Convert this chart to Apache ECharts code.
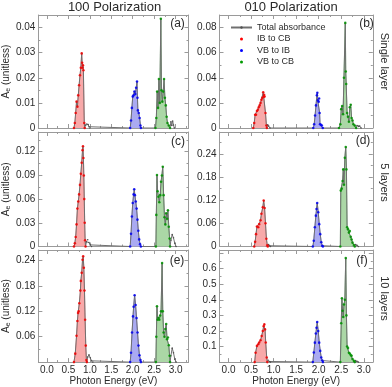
<!DOCTYPE html>
<html><head><meta charset="utf-8">
<script src="https://cdn.jsdelivr.net/npm/echarts@6/dist/echarts.min.js"></script>
<style>html,body{margin:0;padding:0;background:#fff}#c{width:392px;height:387px}</style>
</head><body><div id="c"></div>
<script>
// ---------- DATA (Photon energy in eV, absorbance unitless) ----------
// Panel (a) 100 polarization, single layer
const aRedE=[0.63,0.65,0.67,0.69,0.71,0.73,0.75,0.77,0.79,0.81,0.82,0.83,0.84,0.85,0.87,0.88];
const aRedY=[0,0.002,0.006,0.0105,0.0085,0.013,0.017,0.021,0.024,0.0297,0.026,0.024,0.025,0.023,0.002,0];
const aTail1E=[0.90,0.93,0.96,0.98,1.00];
const aTail1Y=[0.0012,0.0016,0.0014,0.0005,0];
const aBlueE=[1.94,1.96,1.98,2.00,2.02,2.04,2.06,2.08,2.10,2.11,2.12,2.14,2.16,2.18,2.19];
const aBlueY=[0,0.003,0.008,0.0125,0.013,0.0145,0.0135,0.016,0.0185,0.012,0.007,0.006,0.004,0.001,0];
const aGreenE=[2.53,2.55,2.57,2.59,2.61,2.63,2.655,2.67,2.69,2.71,2.73,2.75,2.77,2.79,2.81,2.84,2.87];
const aGreenY=[0,0.004,0.0145,0.008,0.0195,0.010,0.0435,0.015,0.0105,0.0145,0.0195,0.012,0.009,0.0045,0.002,0.001,0];
const aTail2E=[2.89,2.91,2.93,2.95,2.97];
const aTail2Y=[0.0025,0.001,0.0028,0.0012,0];
// Panel (b) 010 polarization, single layer
const bRedE=[0.55,0.57,0.59,0.61,0.63,0.65,0.67,0.69,0.71,0.73,0.75,0.77,0.78,0.79,0.80,0.82,0.84,0.85];
const bRedY=[0,0.004,0.0105,0.0105,0.0135,0.0145,0.0165,0.018,0.02,0.0225,0.024,0.0285,0.025,0.0265,0.025,0.012,0.002,0];
const bTail1E=[0.87,0.89,0.92];
const bTail1Y=[0.0025,0.0015,0];
const bBlueE=[1.88,1.90,1.92,1.94,1.96,1.97,1.98,2.00,2.01,2.02,2.03,2.05,2.07,2.09];
const bBlueY=[0,0.003,0.01,0.018,0.026,0.028,0.022,0.021,0.0235,0.012,0.003,0.0025,0.002,0];
const bGreenE=[2.45,2.48,2.50,2.52,2.54,2.56,2.59,2.60,2.61,2.63,2.65,2.67,2.69,2.71,2.73,2.75,2.77,2.80,2.83];
const bGreenY=[0,0.003,0.015,0.0175,0.011,0.04,0.0837,0.045,0.035,0.012,0.009,0.005,0.0165,0.0185,0.008,0.006,0.003,0.002,0];
const bTail2E=[2.85,2.88,2.91,2.94];
const bTail2Y=[0.002,0.0012,0.0015,0];
// Panel (c) 100 polarization, 5 layers
const cRedE=[0.63,0.65,0.67,0.69,0.71,0.73,0.75,0.77,0.79,0.81,0.83,0.84,0.85,0.86,0.87,0.88,0.89,0.90];
const cRedY=[0,0.004,0.012,0.028,0.048,0.057,0.066,0.078,0.092,0.106,0.122,0.127,0.112,0.09,0.06,0.03,0.008,0];
const cTail1E=[0.92,0.95,0.98,1.01,1.04];
const cTail1Y=[0.006,0.0085,0.005,0.002,0];
const cBlueE=[1.94,1.96,1.98,2.00,2.02,2.035,2.05,2.07,2.09,2.11,2.13,2.15,2.17,2.19];
const cBlueY=[0,0.016,0.038,0.055,0.066,0.0725,0.065,0.057,0.048,0.034,0.02,0.009,0.003,0];
const cGreenE=[2.54,2.55,2.565,2.58,2.60,2.62,2.64,2.66,2.68,2.70,2.72,2.74,2.76,2.78,2.80,2.82,2.84,2.86,2.87];
const cGreenY=[0,0.04,0.0905,0.07,0.063,0.056,0.065,0.082,0.09,0.101,0.065,0.037,0.028,0.042,0.035,0.046,0.025,0.01,0];
const cTail2E=[2.89,2.92,2.95,2.98,3.01];
const cTail2Y=[0.008,0.015,0.011,0.004,0];
// Panel (d) 010 polarization, 5 layers
const dRedE=[0.57,0.59,0.61,0.63,0.66,0.68,0.71,0.73,0.76,0.78,0.80,0.82,0.84,0.86,0.87];
const dRedY=[0,0.012,0.032,0.052,0.05,0.058,0.068,0.085,0.102,0.119,0.1,0.06,0.02,0.003,0];
const dTail1E=[0.89,0.91,0.93];
const dTail1Y=[0.005,0.002,0];
const dBlueE=[1.87,1.89,1.915,1.937,1.952,1.967,1.99,2.012,2.034,2.057,2.079,2.094];
const dBlueY=[0,0.015,0.05,0.08,0.097,0.113,0.089,0.058,0.032,0.011,0.002,0];
const dGreenE=[2.48,2.49,2.51,2.53,2.545,2.56,2.58,2.60,2.615,2.63,2.65,2.67,2.69,2.71,2.73,2.75,2.78,2.80];
const dGreenY=[0,0.145,0.15,0.17,0.2,0.16,0.23,0.258,0.2,0.05,0.045,0.036,0.04,0.025,0.018,0.01,0.004,0];
const dTail2E=[2.82,2.85,2.88];
const dTail2Y=[0.005,0.003,0];
// Panel (e) 100 polarization, 10 layers
const eRedE=[0.63,0.66,0.69,0.71,0.725,0.74,0.755,0.78,0.79,0.81,0.83,0.845,0.86,0.875,0.89,0.905,0.92,0.93];
const eRedY=[0,0.02,0.062,0.097,0.116,0.12,0.139,0.169,0.192,0.211,0.242,0.25,0.223,0.169,0.1,0.039,0.005,0];
const eTail1E=[0.95,0.98,1.01,1.04,1.07];
const eTail1Y=[0.012,0.017,0.01,0.003,0];
const eBlueE=[1.94,1.96,1.984,2.006,2.021,2.044,2.066,2.089,2.112,2.134,2.157,2.18,2.19];
const eBlueY=[0,0.022,0.07,0.108,0.131,0.158,0.135,0.104,0.07,0.039,0.016,0.005,0];
const eGreenE=[2.54,2.55,2.565,2.58,2.60,2.62,2.64,2.66,2.685,2.70,2.72,2.74,2.76,2.78,2.80,2.82,2.84,2.86,2.87];
const eGreenY=[0,0.06,0.132,0.1,0.105,0.1,0.11,0.12,0.234,0.12,0.07,0.06,0.078,0.09,0.054,0.058,0.04,0.015,0];
const eTail2E=[2.89,2.92,2.95,2.98,3.01];
const eTail2Y=[0.015,0.033,0.022,0.007,0];
// Panel (f) 010 polarization, 10 layers
const fRedE=[0.58,0.60,0.63,0.66,0.68,0.71,0.735,0.76,0.78,0.795,0.81,0.825,0.847,0.86];
const fRedY=[0,0.06,0.104,0.115,0.126,0.14,0.168,0.2,0.231,0.242,0.21,0.126,0.03,0];
const fTail1E=[0.88,0.91,0.93];
const fTail1Y=[0.012,0.004,0];
const fBlueE=[1.87,1.892,1.915,1.937,1.952,1.967,1.99,2.012,2.034,2.057,2.079,2.094];
const fBlueY=[0,0.062,0.125,0.184,0.22,0.258,0.199,0.125,0.072,0.03,0.01,0];
const fGreenE=[2.48,2.50,2.515,2.53,2.545,2.56,2.58,2.60,2.615,2.63,2.65,2.67,2.69,2.71,2.73,2.75,2.78,2.80];
const fGreenY=[0,0.25,0.41,0.33,0.29,0.37,0.40,0.668,0.3,0.1,0.09,0.06,0.055,0.045,0.04,0.02,0.008,0];
const fTail2E=[2.82,2.85,2.88];
const fTail2Y=[0.01,0.005,0];

const seriesNames=['Total absorbance','IB to CB','VB to IB','VB to CB'];
const columnTitles=['100 Polarization','010 Polarization'];
const rowLabels=['Single layer','5 layers','10 layers'];
const panelLetters=['(a)','(b)','(c)','(d)','(e)','(f)'];
const yMaxes=[0.045,0.09,0.145,0.297,0.265,0.72];
const yIntervals=[0.01,0.02,0.03,0.06,0.06,0.1];
const yLabelTops=[0.04,0.08,0.12,0.24,0.24,0.6];

const panels=[
 {red:[aRedE,aRedY],blue:[aBlueE,aBlueY],green:[aGreenE,aGreenY],t1:[aTail1E,aTail1Y],t2:[aTail2E,aTail2Y]},
 {red:[bRedE,bRedY],blue:[bBlueE,bBlueY],green:[bGreenE,bGreenY],t1:[bTail1E,bTail1Y],t2:[bTail2E,bTail2Y]},
 {red:[cRedE,cRedY],blue:[cBlueE,cBlueY],green:[cGreenE,cGreenY],t1:[cTail1E,cTail1Y],t2:[cTail2E,cTail2Y]},
 {red:[dRedE,dRedY],blue:[dBlueE,dBlueY],green:[dGreenE,dGreenY],t1:[dTail1E,dTail1Y],t2:[dTail2E,dTail2Y]},
 {red:[eRedE,eRedY],blue:[eBlueE,eBlueY],green:[eGreenE,eGreenY],t1:[eTail1E,eTail1Y],t2:[eTail2E,eTail2Y]},
 {red:[fRedE,fRedY],blue:[fBlueE,fBlueY],green:[fGreenE,fGreenY],t1:[fTail1E,fTail1Y],t2:[fTail2E,fTail2Y]}
];

// ---------- LAYOUT / STYLE ----------
const FONT='"Liberation Sans", Arial, sans-serif';
const colLeft=[34,219.5], colWidth=[154.5,153.3], colXMax=[3.3,3.2];
const rowTop=[15,132,250], rowHeight=[113,114.5,113.5];
const frameColor='#9a9a9a', textColor='#2a2a2a';
const comp=[
  {key:'red',name:'IB to CB',dot:'#ff0000',fill:'#f8a9a9',line:'#f07070'},
  {key:'blue',name:'VB to IB',dot:'#0000ff',fill:'#aaaaf2',line:'#7070f0'},
  {key:'green',name:'VB to CB',dot:'#009a00',fill:'#abd7a6',line:'#60b060'}
];
const zip=(E,Y)=>E.map((e,i)=>[e,Y[i]]);

const grid=[],xAxis=[],yAxis=[],series=[],graphic=[];
panels.forEach((p,i)=>{
  const col=i%2,row=Math.floor(i/2);
  grid.push({left:colLeft[col],top:rowTop[row],width:colWidth[col],height:rowHeight[row],containLabel:false});
  const tick={show:true,inside:true,length:4,lineStyle:{color:frameColor,width:1}};
  const minor={show:true,splitNumber:2,length:2,lineStyle:{color:frameColor,width:1}};
  const line={show:true,onZero:false,lineStyle:{color:frameColor,width:1}};
  const xl=v=>Math.abs(v*2-Math.round(v*2))<1e-6?v.toFixed(1):'';
  const base={type:'value',gridIndex:i,min:-0.2,max:colXMax[col],splitNumber:7,axisLine:line,axisTick:tick,minorTick:minor,splitLine:{show:false}};
  xAxis.push(Object.assign({},base,{position:'bottom',
    axisLabel:{show:row===2,formatter:xl,fontSize:10,color:textColor,margin:3,fontFamily:FONT},
    name:row===2?'Photon Energy (eV)':'',nameLocation:'middle',nameGap:13,
    nameTextStyle:{fontSize:10,color:textColor,fontFamily:FONT}}));
  xAxis.push(Object.assign({},base,{position:'top',axisLabel:{show:false}}));
  const yi=yIntervals[i], ytop=yLabelTops[i];
  const yl=v=>{const k=v/yi;if(Math.abs(k-Math.round(k))>1e-6)return '';if(v>ytop+1e-9)return '';if(Math.abs(v)<1e-12)return row===2?'':'0';return String(+v.toFixed(3));};
  const ybase={type:'value',gridIndex:i,min:0,max:yMaxes[i],interval:yi,axisLine:line,axisTick:tick,minorTick:minor,splitLine:{show:false}};
  yAxis.push(Object.assign({},ybase,{position:'left',
    axisLabel:{formatter:yl,fontSize:10,color:textColor,margin:3,fontFamily:FONT,showMaxLabel:false},
    name:col===0?'{a|A}{s|e}{a| (unitless)}':'',nameLocation:'middle',nameGap:18,
    nameTextStyle:{color:textColor,fontFamily:FONT,rich:{a:{fontSize:10,lineHeight:12,color:textColor,fontFamily:FONT},s:{fontSize:7,lineHeight:12,verticalAlign:'bottom',color:textColor,fontFamily:FONT}}}}));
  yAxis.push(Object.assign({},ybase,{position:'right',axisLabel:{show:false}}));

  // filled component areas
  comp.forEach(c=>{
    series.push({type:'line',name:c.name,xAxisIndex:2*i,yAxisIndex:2*i,data:zip(p[c.key][0],p[c.key][1]),
      symbol:'none',lineStyle:{width:0.7,color:c.line},itemStyle:{color:c.dot},
      areaStyle:{color:c.fill,opacity:1},z:1,silent:true});
  });
  // total absorbance
  const tot=[].concat(zip(p.red[0],p.red[1]),zip(p.t1[0],p.t1[1]),zip(p.blue[0],p.blue[1]),zip(p.green[0],p.green[1]),zip(p.t2[0],p.t2[1]));
  series.push({type:'line',name:'Total absorbance',xAxisIndex:2*i,yAxisIndex:2*i,data:tot,
    symbol:'circle',symbolSize:1.6,showSymbol:true,showAllSymbol:true,
    lineStyle:{width:1,color:'#707070'},itemStyle:{color:'#505050'},z:2,silent:true});
  // component points
  comp.forEach(c=>{
    series.push({type:'scatter',name:c.name,xAxisIndex:2*i,yAxisIndex:2*i,data:zip(p[c.key][0],p[c.key][1]),
      symbol:'circle',symbolSize:2.6,itemStyle:{color:c.dot},z:3,silent:true});
  });
  const lx=[177.5,366.5,178,363,177,362][i], ly=[24,24,142,141,261,261][i];
  graphic.push({type:'text',x:lx,y:ly,style:{text:panelLetters[i],font:'12px '+FONT,fill:textColor,align:'center',verticalAlign:'middle'}});
});
graphic.push({type:'text',x:114.5,y:7.5,style:{text:columnTitles[0],font:'13px '+FONT,fill:textColor,align:'center',verticalAlign:'middle'}});
graphic.push({type:'text',x:291,y:7.5,style:{text:columnTitles[1],font:'13px '+FONT,fill:textColor,align:'center',verticalAlign:'middle'}});
[61.5,182.5,298.5].forEach((y,r)=>{
  graphic.push({type:'text',x:384,y:y,rotation:-Math.PI/2,style:{text:rowLabels[r],font:'11px '+FONT,fill:textColor,align:'center',verticalAlign:'middle'}});
});

const chart=echarts.init(document.getElementById('c'),null,{renderer:'canvas'});
chart.setOption({
  animation:false,
  textStyle:{fontFamily:FONT},
  grid,xAxis,yAxis,series,graphic,
  legend:{show:true,orient:'vertical',left:230,top:22,padding:0,itemWidth:21,itemHeight:3,itemGap:0.5,
    selectedMode:false,
    data:[{name:seriesNames[0]},{name:seriesNames[1],icon:'circle'},{name:seriesNames[2],icon:'circle'},{name:seriesNames[3],icon:'circle'}],
    textStyle:{fontSize:9,lineHeight:11,color:textColor,fontFamily:FONT}}
});
</script></body></html>
